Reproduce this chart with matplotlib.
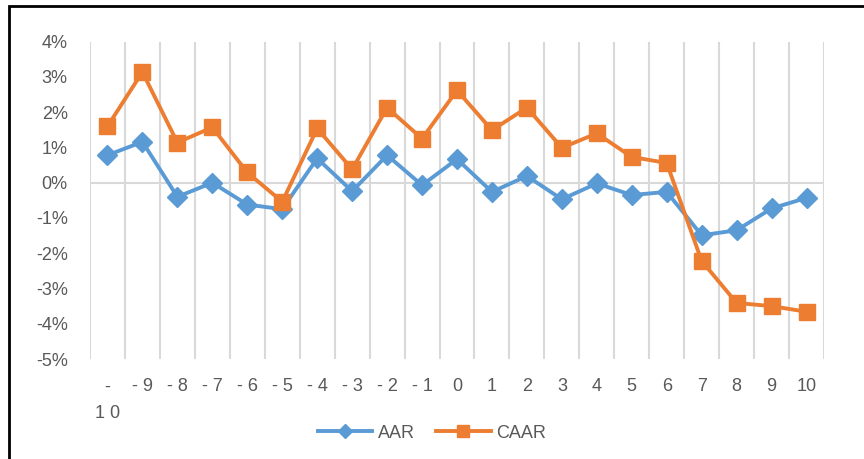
import matplotlib
matplotlib.use("Agg")
import matplotlib.pyplot as plt
from matplotlib.patches import Rectangle
from matplotlib.ticker import FuncFormatter

# event window days and results (fractions)
days = list(range(-10, 11))
day_labels = ["-\n1 0"] + [f"- {abs(d)}" for d in range(-9, 0)] + [str(d) for d in range(0, 11)]
aar = [0.0078, 0.0116, -0.0040, 0.0000, -0.0062, -0.0075, 0.0069, -0.0024, 0.0078, -0.0007, 0.0067,
       -0.0026, 0.0019, -0.0047, -0.0002, -0.0035, -0.0026, -0.0149, -0.0135, -0.0073, -0.0043]
caar = [0.0160, 0.0314, 0.0114, 0.0157, 0.0029, -0.0054, 0.0154, 0.0038, 0.0213, 0.0125, 0.0262,
        0.0149, 0.0213, 0.0099, 0.0140, 0.0073, 0.0056, -0.0222, -0.0341, -0.0350, -0.0366]
yticks = [-0.05, -0.04, -0.03, -0.02, -0.01, 0.0, 0.01, 0.02, 0.03, 0.04]

plt.rcParams['font.family'] = ['Liberation Sans', 'DejaVu Sans']
text_color = "#595959"
grid_color = "#d9d9d9"

fig = plt.figure(figsize=(8.64, 4.59), dpi=100)
ax = fig.add_axes([90 / 864, 1 - 359 / 459, 734 / 864, (359 - 41.7) / 459])

# vertical gridlines on category boundaries
for b in range(len(days) + 1):
    ax.axvline(days[0] - 0.5 + b, color=grid_color, lw=1.5, zorder=0)
ax.axhline(0, color=grid_color, lw=1.5, zorder=0)

ax.plot(days, aar, color="#5B9BD5", lw=2.8, marker="D", markersize=10, label="AAR", zorder=3)
ax.plot(days, caar, color="#ED7D31", lw=2.8, marker="s", markersize=12, label="CAAR", zorder=4)

ax.set_xlim(days[0] - 0.5, days[-1] + 0.5)
ax.set_ylim(-0.05, 0.04)
ax.set_xticks(days)
ax.set_xticklabels(day_labels, linespacing=1.7)
ax.set_yticks(yticks)
ax.yaxis.set_major_formatter(FuncFormatter(lambda v, p: f"{v * 100:.0f}%"))
ax.tick_params(axis="both", length=0, labelsize=13, colors=text_color)
ax.tick_params(axis="x", pad=14)
ax.tick_params(axis="y", pad=16)
for s in ax.spines.values():
    s.set_visible(False)

fig.legend(loc="center", bbox_to_anchor=(0.5, 1 - 433 / 459), ncol=2, frameon=False,
           fontsize=13, handlelength=3, columnspacing=1.2, handletextpad=0.3,
           markerscale=0.75, labelcolor=text_color)

# chart frame (clipped on right/bottom as in the original)
fig.patches.append(Rectangle((9 / 864, -0.1), 1.2, 1 - 6 / 459 + 0.1, transform=fig.transFigure,
                             fill=False, edgecolor="black", lw=2))

fig.savefig("out.png", dpi=100)
